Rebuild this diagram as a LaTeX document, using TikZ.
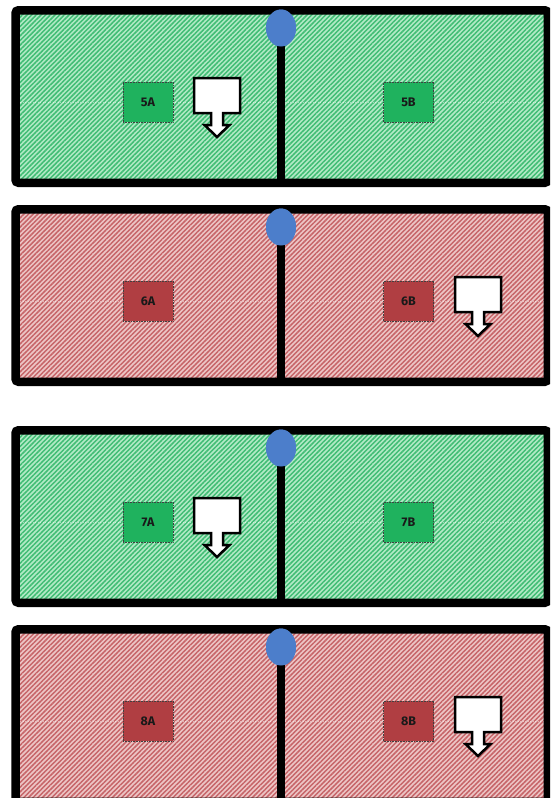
\documentclass[tikz,border=0pt]{standalone}
\usepackage{fontspec}
\setmainfont{Fira Sans}
\usetikzlibrary{patterns.meta,shapes.geometric}
\definecolor{gbg}{HTML}{B2EAC6}
\definecolor{gln}{HTML}{40BC74}
\definecolor{rbg}{HTML}{EDC6C6}
\definecolor{rln}{HTML}{C66468}
\definecolor{gbox}{HTML}{1FB25E}
\definecolor{rbox}{HTML}{B03E42}
\definecolor{knob}{HTML}{4C7ECB}
\tikzset{
  hatch/.style={preaction={fill=#1bg}, pattern={Lines[angle=45,distance=3.3pt,line width=1.5pt]}, pattern color=#1ln},
  frame/.style={draw=black, line width=8.5pt, rounded corners=3pt},
  divider/.style={draw=black, line width=8.5pt},
  knobshape/.style={ellipse, fill=knob, minimum width=30pt, minimum height=37pt, inner sep=0pt},
  labelbox/.style={fill=#1, draw=black!75, densely dotted, line width=0.6pt, minimum width=50pt, minimum height=40pt, inner sep=0pt, font=\bfseries\fontsize{12.5}{14}\selectfont, text=black!90},
  callout/.style={fill=white, draw=black, line width=2.5pt, line join=miter},
  midline/.style={draw=white, dotted, line width=0.5pt, opacity=0.5}
}
\begin{document}
\begin{tikzpicture}[x=1pt,y=-1pt]
\clip (0,0) rectangle (550,798);
\fill[white] (0,0) rectangle (550,798);
\foreach \T/\c/\bx/\la/\lb/\cx/\n in {6/g/gbox/5A/5B/217/1, 205/r/rbox/6A/6B/478/2, 426/g/gbox/7A/7B/217/3, 625/r/rbox/8A/8B/478/4}{
  \path[hatch=\c] (15.5,\T+4.25) rectangle (547.75,\T+176.75);
  \path[midline] (20,\T+96) -- (544,\T+96);
  \path[frame] (15.5,\T+4.25) rectangle (547.75,\T+176.75);
  \node[knobshape] (knob\n) at (281,\T+22) {};
  \coordinate (foot\n) at (281,\T+177);
  \path[divider] (knob\n.center) -- (foot\n);
  \node[knobshape] at (knob\n) {};
  \node[labelbox=\bx] (box\la) at (148,\T+96) {\la};
  \node[labelbox=\bx] (box\lb) at (408.5,\T+96) {\lb};
  \path[callout] (\cx-23,\T+72) -- (\cx+23,\T+72) -- (\cx+23,\T+107) -- (\cx+6,\T+107)
     -- (\cx+6,\T+119) -- (\cx+12.5,\T+119) -- (\cx,\T+131) -- (\cx-12.5,\T+119)
     -- (\cx-6,\T+119) -- (\cx-6,\T+107) -- (\cx-23,\T+107) -- cycle;
}
\end{tikzpicture}
\end{document}
